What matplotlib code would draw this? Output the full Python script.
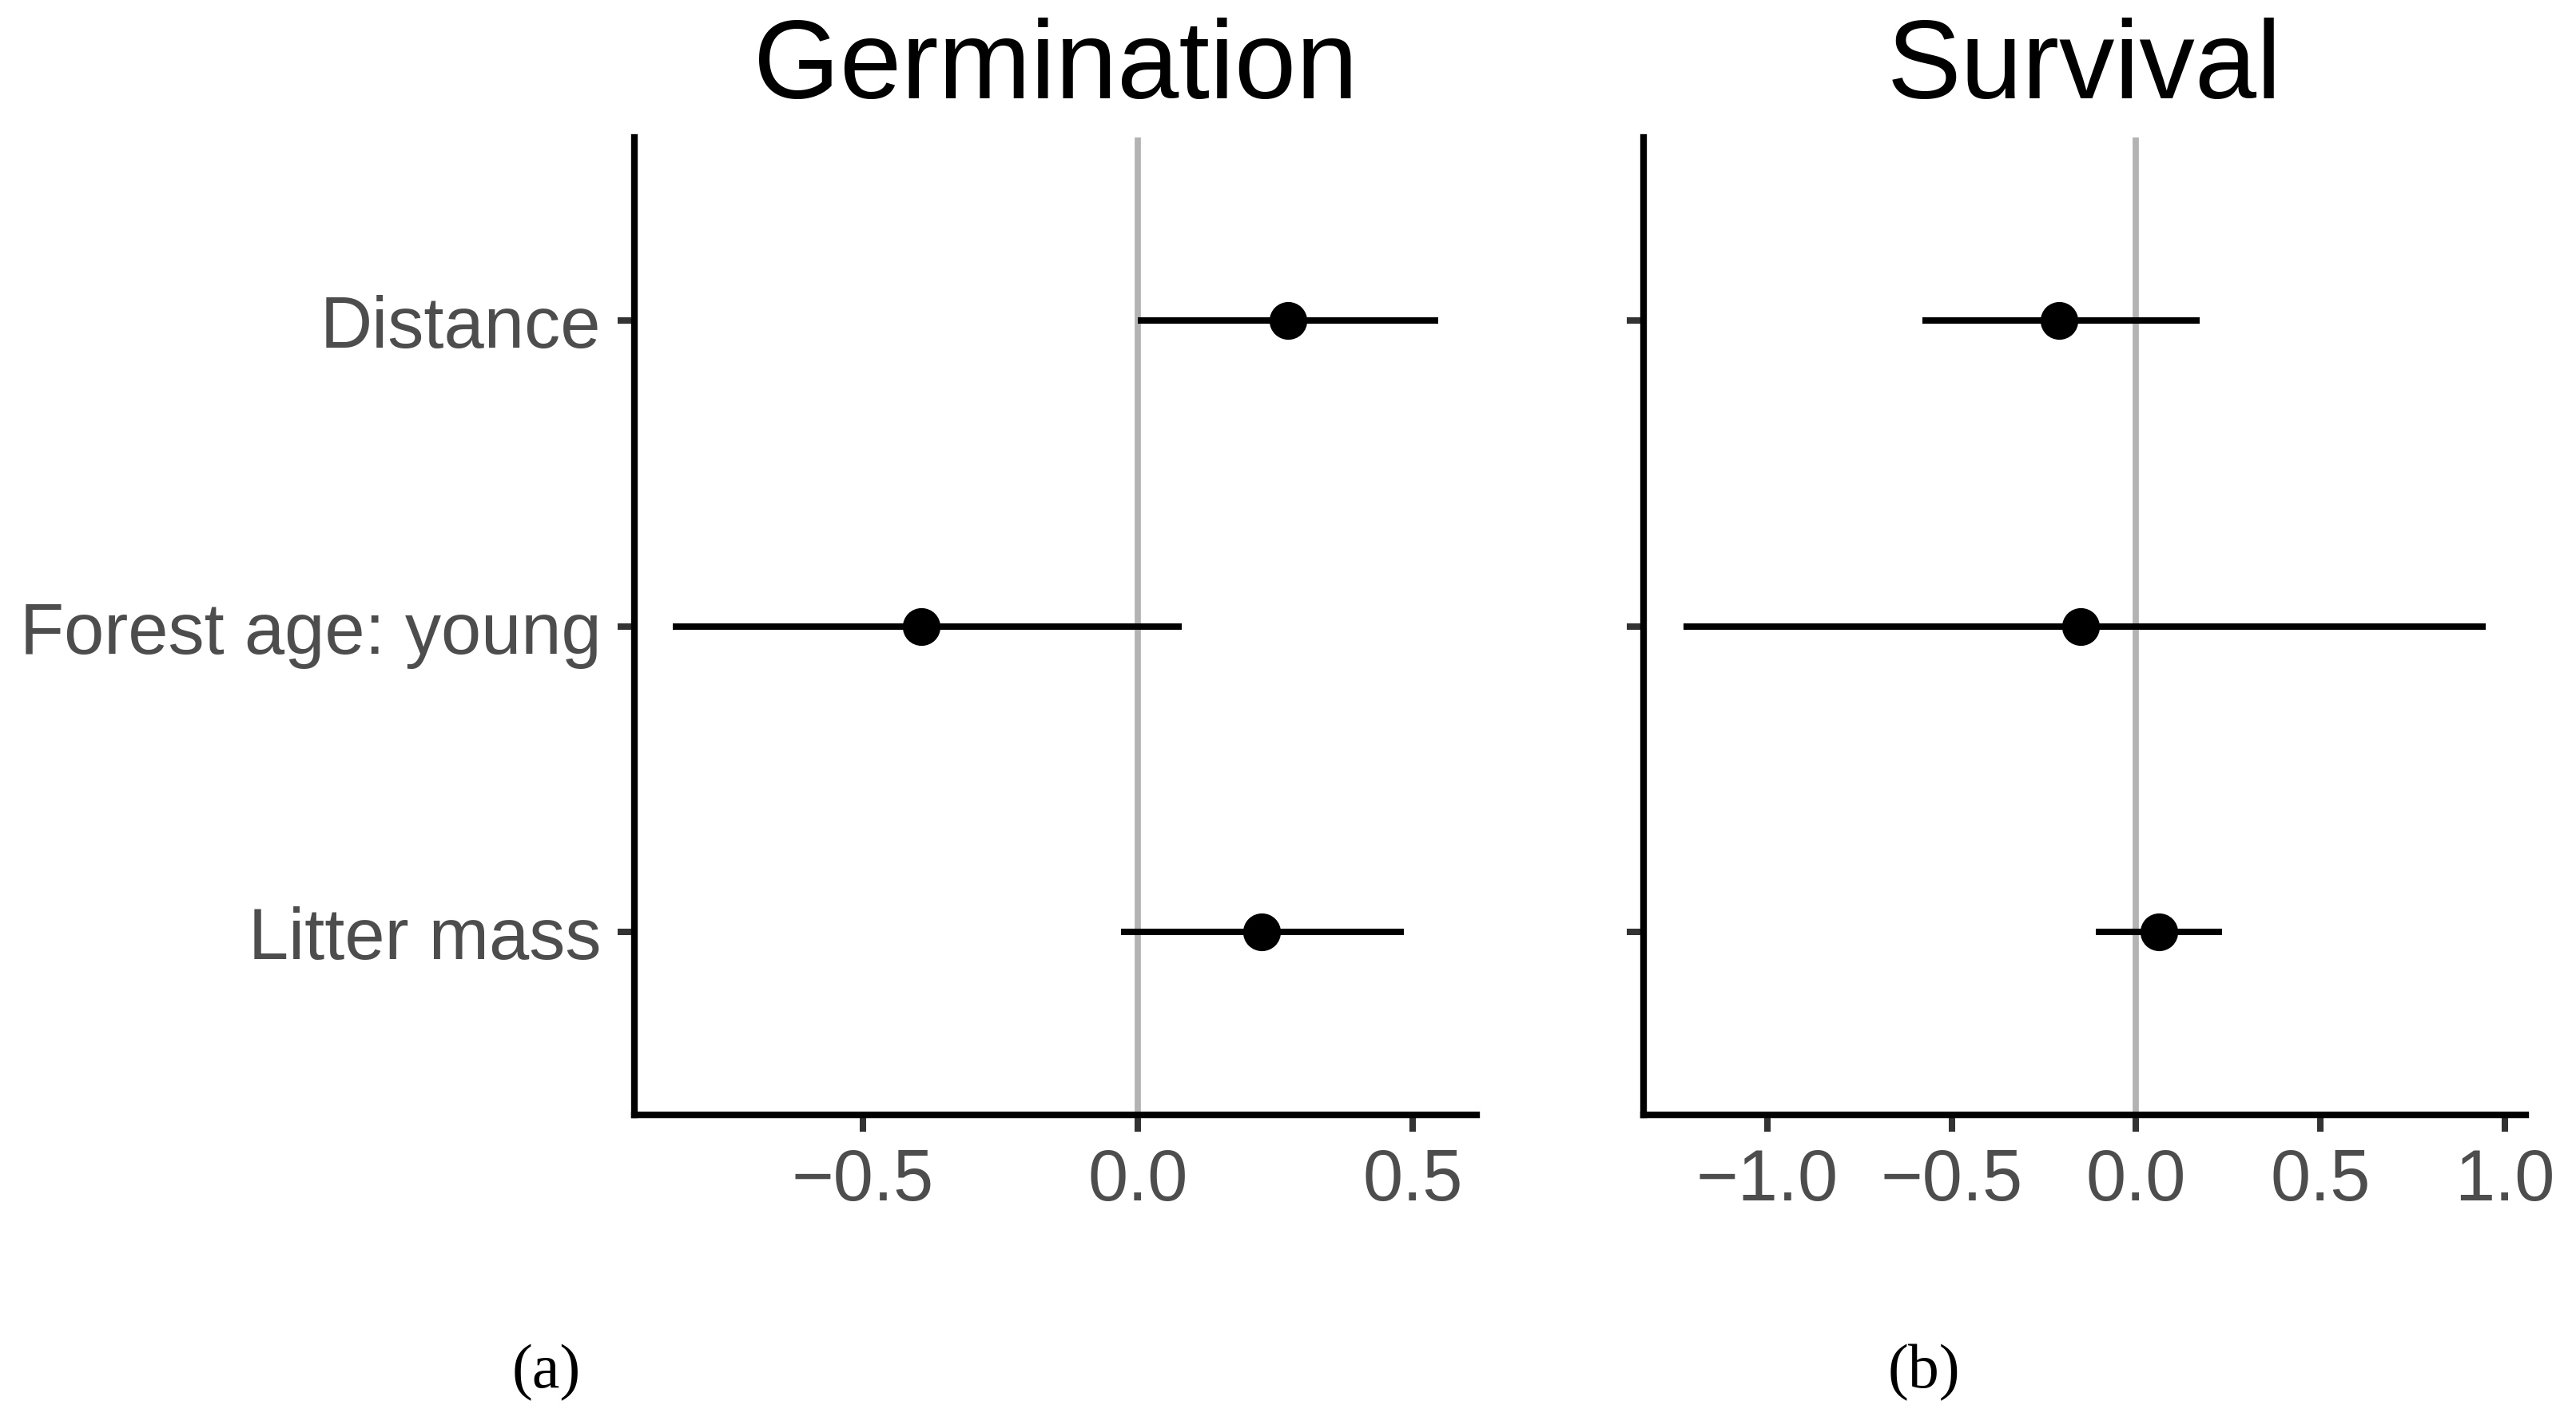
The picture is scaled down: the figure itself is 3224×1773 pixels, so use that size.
import matplotlib
matplotlib.use("Agg")
import matplotlib.pyplot as plt
import numpy as np

plt.rcParams["font.family"] = ["Liberation Sans", "DejaVu Sans"]

# model terms, bottom to top
terms = ["Litter mass", "Forest age: young", "Distance"]

# Germination estimates and intervals
germ_est = [0.226, -0.393, 0.274]
germ_lo = [-0.030, -0.845, 0.000]
germ_hi = [0.484, 0.081, 0.547]

# Survival estimates and intervals
surv_est = [0.061, -0.151, -0.208]
surv_lo = [-0.110, -1.227, -0.579]
surv_hi = [0.234, 0.948, 0.172]

germ_ticks = [-0.5, 0.0, 0.5]
surv_ticks = [-1.0, -0.5, 0.0, 0.5, 1.0]


def coef_panel(ax, est, lo, hi, ticks, title, show_labels):
    y = np.arange(1, len(terms) + 1)
    ax.axvline(0, color="#B3B3B3", linewidth=2.8, zorder=1)
    ax.hlines(y, lo, hi, color="black", linewidth=2.9, zorder=2)
    ax.plot(est, y, "o", color="black", markersize=16, zorder=3)

    span = max(hi) - min(lo)
    ax.set_xlim(min(lo) - 0.05 * span, max(hi) + 0.05 * span)
    ax.set_ylim(0.4, len(terms) + 0.6)
    ax.set_xticks(ticks)
    ax.set_xticklabels([f"{t:.1f}".replace("-", "\u2212") for t in ticks])
    ax.set_yticks(y)
    ax.set_yticklabels(terms if show_labels else [])

    for side in ["top", "right"]:
        ax.spines[side].set_visible(False)
    for side in ["left", "bottom"]:
        ax.spines[side].set_linewidth(3.0)
        ax.spines[side].set_color("black")
        ax.spines[side].set_capstyle("projecting")

    ax.tick_params(axis="both", length=7.6, width=2.9, color="#333333",
                   labelcolor="#4D4D4D", labelsize=32.5)
    ax.tick_params(axis="y", pad=7.5)
    ax.tick_params(axis="x", pad=6.5)
    ax.set_title(title, fontsize=50, pad=18)


fig = plt.figure(figsize=(16.12, 8.87), dpi=200)
ax1 = fig.add_axes([0.2464, 0.2128, 0.3268, 0.6898])
ax2 = fig.add_axes([0.6380, 0.2128, 0.3425, 0.6898])

coef_panel(ax1, germ_est, germ_lo, germ_hi, germ_ticks, "Germination", True)
coef_panel(ax2, surv_est, surv_lo, surv_hi, surv_ticks, "Survival", False)

fig.text(0.2120, 0.0316, "(a)", ha="center", va="center",
         family="Liberation Serif", fontsize=28)
fig.text(0.7469, 0.0316, "(b)", ha="center", va="center",
         family="Liberation Serif", fontsize=28)

fig.savefig("out.png", dpi=200)
plt.close(fig)
